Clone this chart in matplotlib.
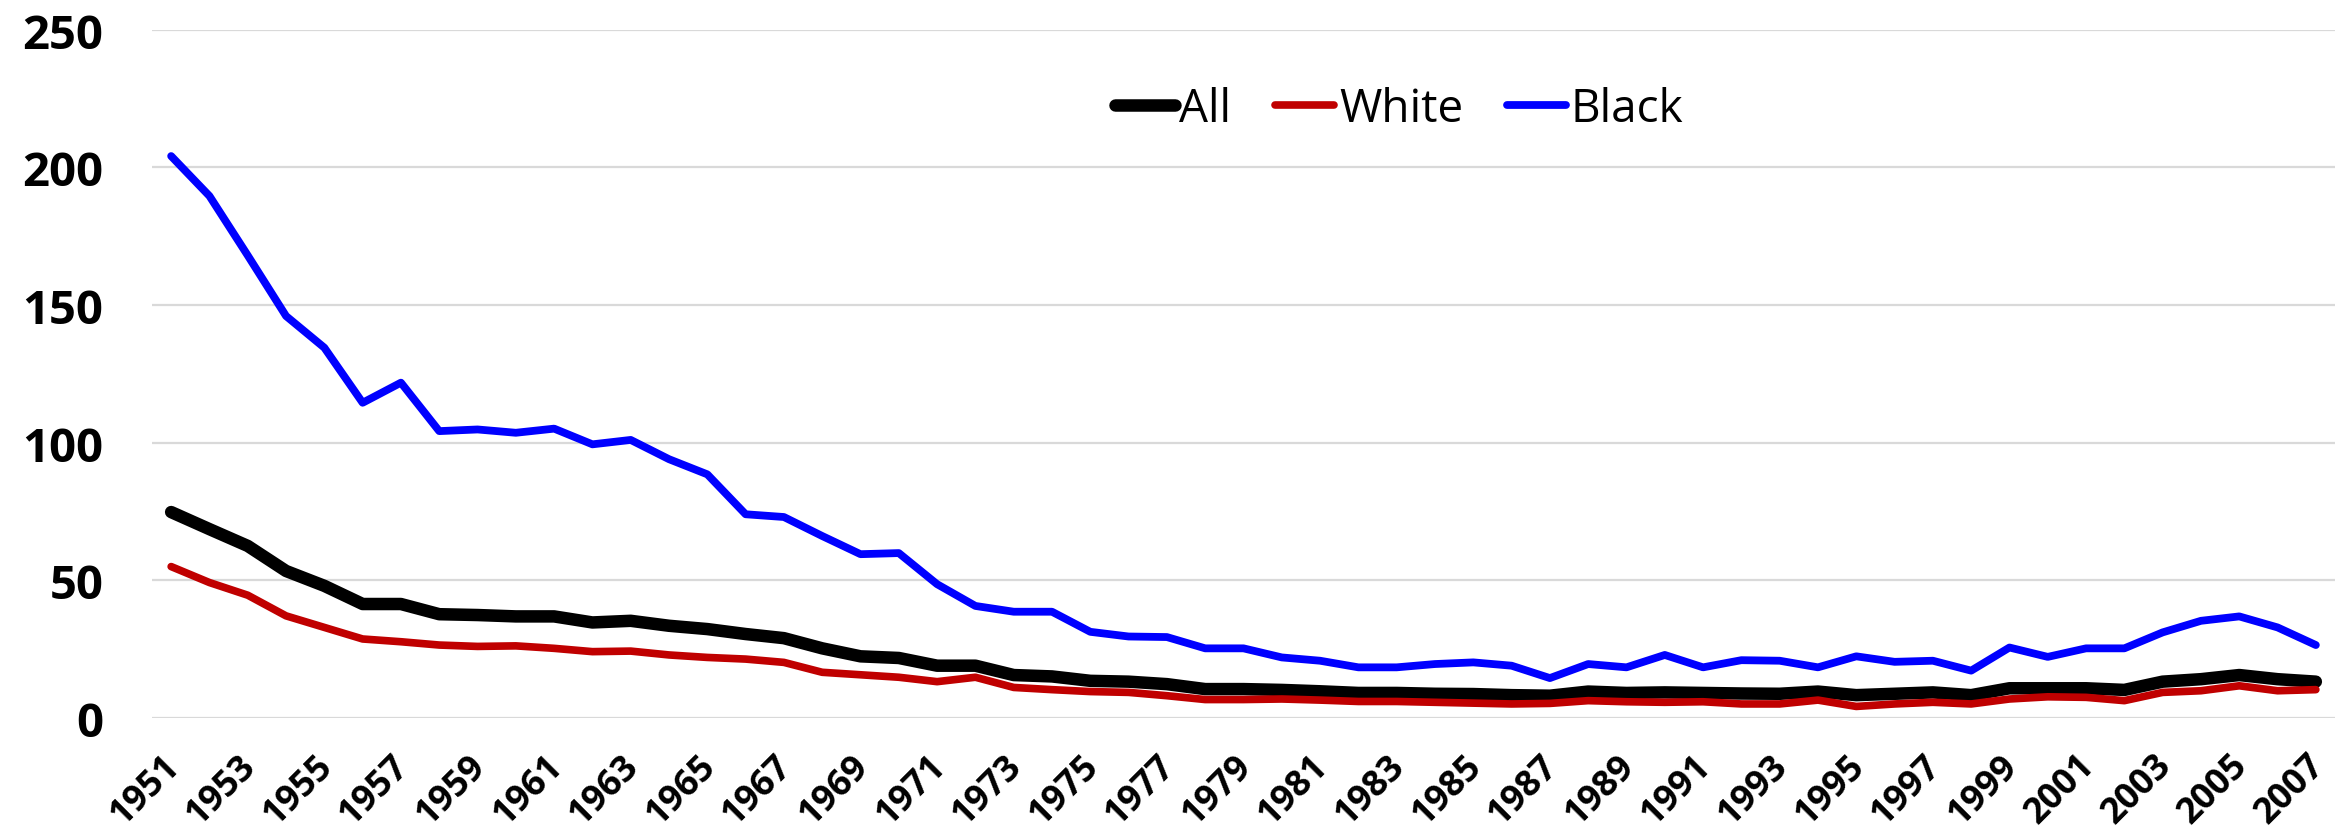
import matplotlib
matplotlib.use("Agg")
import matplotlib.pyplot as plt
from matplotlib.transforms import ScaledTranslation

years = list(range(1951, 2008))

all_rate = [74.8, 68.6, 62.5, 53.4, 48.0, 41.4, 41.4, 37.7, 37.4, 36.9, 36.9, 34.7, 35.3, 33.5, 32.3, 30.5, 29.0,
            25.3, 22.4, 21.8, 19.0, 19.0, 15.6, 15.1, 13.5, 13.2, 12.3, 10.5, 10.5, 10.2, 9.7, 9.1, 9.1, 8.8, 8.7, 8.3, 8.1,
            9.6, 9.1, 9.3, 9.1, 8.9, 8.8, 9.6, 8.3, 8.8, 9.3, 8.3, 10.8, 10.8, 10.8, 10.2, 13.2, 14.1, 15.6, 14.1, 13.2]

white_rate = [55.0, 49.2, 44.6, 37.1, 32.9, 28.7, 27.7, 26.5, 26.0, 26.2, 25.3, 24.1, 24.3, 22.9, 22.0, 21.4, 20.2,
              16.6, 15.7, 14.8, 13.2, 14.8, 11.1, 10.3, 9.6, 9.3, 8.1, 6.7, 6.7, 6.9, 6.5, 6.0, 6.0, 5.7, 5.4, 5.1, 5.3,
              6.3, 5.9, 5.7, 5.9, 5.1, 5.1, 6.5, 4.2, 5.1, 5.7, 5.1, 6.9, 7.7, 7.5, 6.3, 9.3, 9.9, 11.7, 9.9, 10.3]

black_rate = [204.1, 189.6, 168.0, 146.0, 134.5, 114.5, 121.8, 104.2, 104.8, 103.6, 105.1, 99.4, 101.0, 94.0, 88.5, 74.0, 73.0,
              66.1, 59.5, 59.9, 48.6, 40.7, 38.6, 38.6, 31.3, 29.6, 29.4, 25.3, 25.3, 22.0, 20.8, 18.4, 18.4, 19.6, 20.2, 19.0, 14.5,
              19.6, 18.4, 22.9, 18.4, 21.0, 20.8, 18.4, 22.4, 20.4, 20.8, 17.2, 25.6, 22.2, 25.3, 25.3, 31.1, 35.3, 36.9, 32.9, 26.5]

series_names = ["All", "White", "Black"]
y_ticks = [0, 50, 100, 150, 200, 250]
x_ticks = list(range(1951, 2008, 2))

plt.rcParams['font.family'] = ['Open Sans', 'DejaVu Sans']

fig = plt.figure(figsize=(23.43, 8.37), dpi=100)
ax = fig.add_axes([152/2343, 1 - 719/837, (2335-152)/2343, (719-30.7)/837])

style = dict(solid_capstyle='round', solid_joinstyle='round')
ax.plot(years, all_rate, color='black', lw=9.0, label=series_names[0], zorder=3, **style)
ax.plot(years, white_rate, color='#c00000', lw=5.5, label=series_names[1], zorder=4, **style)
ax.plot(years, black_rate, color='#0000ff', lw=5.6, label=series_names[2], zorder=5, **style)

ax.set_xlim(1950.5, 2007.5)
ax.set_ylim(0, 250)
ax.set_yticks(y_ticks)
ax.set_xticks(x_ticks)
ax.set_yticklabels([str(v) for v in y_ticks], fontsize=34, fontweight='bold')
ax.set_xticklabels([str(v) for v in x_ticks], fontsize=26, fontweight='bold', rotation=45,
                   ha='right', va='top')
ax.tick_params(axis='y', length=0, pad=35)
ax.tick_params(axis='x', length=0, pad=21)
for lab in ax.get_xticklabels():
    lab.set_transform(lab.get_transform() + ScaledTranslation(16/100, 0, fig.dpi_scale_trans))

ax.grid(axis='y', color='#d9d9d9', lw=1.6)
ax.set_axisbelow(True)
for s in ax.spines.values():
    s.set_visible(False)

leg = fig.legend(loc='center left', bbox_to_anchor=(1115/2343, 1 - 110/837), ncol=3, frameon=False,
                 fontsize=33, handlelength=1.3, handletextpad=0.1, columnspacing=0.95,
                 borderpad=0, borderaxespad=0)

fig.savefig("out.png", dpi=100)
